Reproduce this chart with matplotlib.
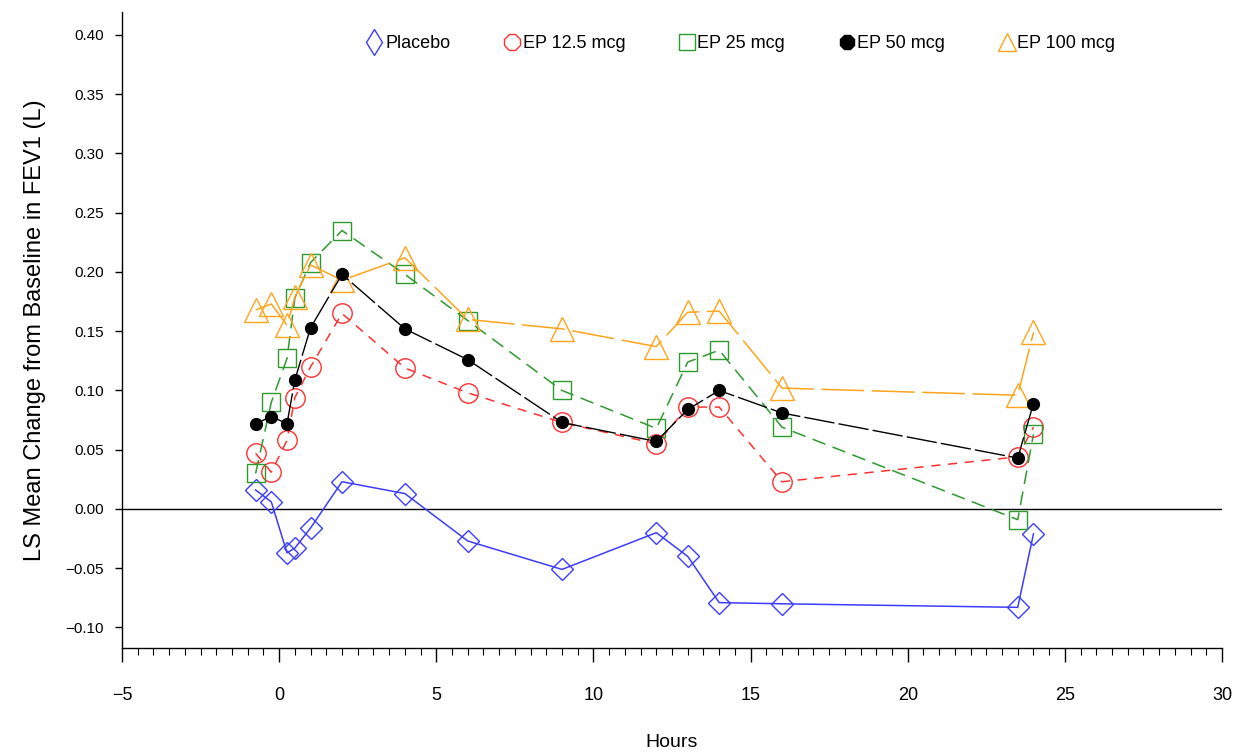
import numpy as np
import matplotlib.pyplot as plt
from matplotlib.ticker import MultipleLocator
from matplotlib.lines import Line2D

plt.rcParams['font.family'] = ['Liberation Sans Narrow', 'Liberation Sans', 'DejaVu Sans']

# ------------------------------------------------------
# DATA
# ------------------------------------------------------
hours = [-0.75, -0.25, 0.25, 0.5, 1, 2, 4, 6, 9, 12, 13, 14, 16, 23.5, 24]

placebo = [0.016, 0.006, -0.037, -0.033, -0.016, 0.023, 0.013, -0.027,
           -0.051, -0.020, -0.040, -0.079, -0.080, -0.083, -0.021]
ep_12_5 = [0.047, 0.031, 0.058, 0.094, 0.120, 0.165, 0.119, 0.098,
           0.073, 0.055, 0.086, 0.086, 0.023, 0.044, 0.069]
ep_25 = [0.030, 0.090, 0.127, 0.178, 0.208, 0.235, 0.198, 0.159,
         0.100, 0.068, 0.124, 0.134, 0.069, -0.009, 0.063]
ep_50 = [0.072, 0.078, 0.072, 0.109, 0.153, 0.198, 0.152, 0.126,
         0.073, 0.057, 0.084, 0.100, 0.081, 0.043, 0.089]
ep_100 = [0.168, 0.173, 0.155, 0.179, 0.206, 0.193, 0.212, 0.160,
          0.152, 0.137, 0.166, 0.167, 0.102, 0.096, 0.149]

labels = ["Placebo", "EP 12.5 mcg", "EP 25 mcg", "EP 50 mcg", "EP 100 mcg"]

# ------------------------------------------------------
# FIGURE
# ------------------------------------------------------
fig = plt.figure(figsize=(12.35, 7.54), dpi=100)
ax = fig.add_axes([0.0988, 0.1406, 0.8907, 0.8435])

ax.axhline(0, color="black", linewidth=1.0, zorder=1)

# placebo - solid blue, open diamonds
ax.plot(hours, placebo, color="#3c3cff", linewidth=1.1, marker="D",
        markersize=11, markerfacecolor="none", markeredgewidth=1.0, zorder=3)
# 12.5 - red dashed, open circles
ax.plot(hours, ep_12_5, color="#ff3030", linewidth=1.1, linestyle=(0, (6, 5)),
        marker="o", markersize=14, markerfacecolor="none", markeredgewidth=1.0, zorder=3)
# 25 - green dashed, open squares
ax.plot(hours, ep_25, color="#2e9a2e", linewidth=1.1, linestyle=(0, (9, 5)),
        marker="s", markersize=13.5, markerfacecolor="none", markeredgewidth=1.0, zorder=3)
# 50 - black long dash, filled circles
ax.plot(hours, ep_50, color="black", linewidth=1.0, linestyle=(0, (22, 3)),
        marker="o", markersize=8.5, markerfacecolor="black", zorder=4)
# 100 - orange long dash, open triangles
ax.plot(hours, ep_100, color="#ffa41c", linewidth=1.1, linestyle=(0, (28, 5)),
        marker="^", markersize=17, markerfacecolor="none", markeredgewidth=1.0, zorder=3)

# ------------------------------------------------------
# LEGEND (markers only)
# ------------------------------------------------------
handles = [
    Line2D([], [], linestyle="none", marker="d", markersize=13, markerfacecolor="none",
           markeredgecolor="#3c3cff"),
    Line2D([], [], linestyle="none", marker="8", markersize=13, markerfacecolor="none",
           markeredgecolor="#ff3030"),
    Line2D([], [], linestyle="none", marker="s", markersize=12, markerfacecolor="none",
           markeredgecolor="#2e9a2e"),
    Line2D([], [], linestyle="none", marker="8", markersize=11, markerfacecolor="black",
           markeredgecolor="black"),
    Line2D([], [], linestyle="none", marker="^", markersize=13, markerfacecolor="none",
           markeredgecolor="#ffa41c"),
]
ax.legend(handles, labels, ncol=5, frameon=False, loc="center",
          bbox_to_anchor=(0.563, 0.95), handlelength=0.8, handletextpad=0.2,
          columnspacing=3.0, fontsize=13)

# ------------------------------------------------------
# AXES FORMATTING
# ------------------------------------------------------
ax.set_xlim(-5, 30)
ax.set_ylim(-0.1173, 0.4194)
ax.xaxis.set_major_locator(MultipleLocator(5))
ax.xaxis.set_minor_locator(MultipleLocator(0.5))
yticks = np.arange(-0.10, 0.401, 0.05)
ax.set_yticks(yticks)
ax.set_yticklabels([f"{v:.2f}".replace("-", "\u2212") for v in yticks])

ax.tick_params(axis="x", which="major", length=10, width=1, pad=18, labelsize=13)
ax.tick_params(axis="x", which="minor", length=5, width=0.8)
ax.tick_params(axis="y", which="major", length=5, width=1, pad=8, labelsize=11)

for side in ("top", "right"):
    ax.spines[side].set_visible(False)
for side in ("left", "bottom"):
    ax.spines[side].set_linewidth(1.0)

ax.set_xlabel("Hours", fontsize=14, labelpad=22)
ax.set_ylabel("LS Mean Change from Baseline in FEV1 (L)", fontsize=17, labelpad=14)

fig.savefig("out.png", dpi=100)
